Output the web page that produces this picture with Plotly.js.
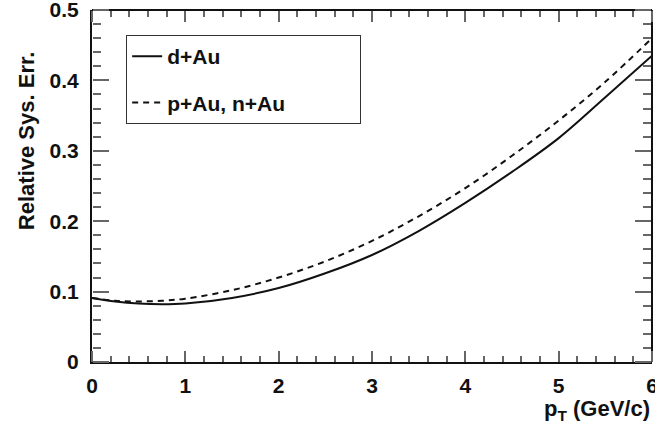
<!DOCTYPE html>
<html>
<head>
<meta charset="utf-8">
<script src="https://cdn.plot.ly/plotly-3.0.1.min.js"></script>
<style>
  body { margin: 0; background: #fff; }
  #plot { width: 655px; height: 432px; }
</style>
</head>
<body>
<div id="plot"></div>
<script>
// pT points (GeV/c)
var pt = [0, 0.25, 0.5, 0.75, 1, 1.5, 2, 2.5, 3, 3.5, 4, 4.5, 5, 5.5, 6];
// relative systematic error
var dAu = [0.091, 0.086, 0.083, 0.082, 0.083, 0.091, 0.105, 0.126, 0.152, 0.186, 0.226, 0.270, 0.318, 0.376, 0.435];
var pnAu = [0.091, 0.087, 0.086, 0.087, 0.090, 0.102, 0.120, 0.143, 0.172, 0.207, 0.247, 0.293, 0.343, 0.398, 0.460];
var names = ['d+Au', 'p+Au, n+Au'];
var xTicks = [0, 1, 2, 3, 4, 5, 6];
var xTickText = ['0', '1', '2', '3', '4', '5', '6'];
var yTicks = [0, 0.1, 0.2, 0.3, 0.4, 0.5];
var yTickText = ['0', '0.1', '0.2', '0.3', '0.4', '0.5'];

var FONT = 'Liberation Sans, Arial, sans-serif';
var PAD = '\u00a0'.repeat(12); // widens the legend box like the original

function bold(s) { return '<b>' + s + '</b>'; }

var traces = [
	{
		x: pt, y: dAu, name: names[0] + PAD, mode: 'lines', legendgroup: 'a',
		line: { color: '#111', width: 2, shape: 'spline' }
	},
	{
		x: pt, y: pnAu, name: names[1] + PAD, mode: 'lines', legendgroup: 'b',
		line: { color: '#111', width: 2, shape: 'spline', dash: '6px,5px' }
	},
	// empty traces so the tick-only frame axes get drawn
	{ x: [], y: [], xaxis: 'x2', yaxis: 'y2', showlegend: false, hoverinfo: 'skip' },
	{ x: [], y: [], xaxis: 'x3', yaxis: 'y3', showlegend: false, hoverinfo: 'skip' }
];

var tickFont = { family: FONT, size: 21, color: '#111' };

// frame axes: outside ticks on the far side point into the plot
function xFrame(side, pos, line) {
	return {
		range: [0, 6], overlaying: 'x', anchor: 'free', position: pos, side: side,
		showline: line, linecolor: '#111', linewidth: 2,
		ticks: 'outside', ticklen: 11, tickcolor: '#666', tickwidth: 2, dtick: 1,
		minor: { ticks: 'outside', ticklen: 6, dtick: 0.2 },
		showticklabels: false, showgrid: false, zeroline: false
	};
}
function yFrame(side, pos, line) {
	return {
		range: [0, 0.5], overlaying: 'y', anchor: 'free', position: pos, side: side,
		showline: line, linecolor: '#111', linewidth: 2,
		ticks: 'outside', ticklen: 16, tickcolor: '#666', tickwidth: 2, dtick: 0.1,
		minor: { ticks: 'outside', ticklen: 8, dtick: 0.02 },
		showticklabels: false, showgrid: false, zeroline: false
	};
}

var layout = {
	width: 655, height: 432,
	margin: { l: 92, r: 3, t: 10, b: 70 },
	showlegend: true,
	legend: {
		x: 0.061, y: 0.929, xanchor: 'left', yanchor: 'top',
		bordercolor: '#333', borderwidth: 1, bgcolor: '#fff',
		tracegroupgap: 16,
		font: { family: FONT, size: 21, weight: 'bold', color: '#111' }
	},
	xaxis: {
		range: [0, 6], tickmode: 'array', tickvals: xTicks, ticktext: xTickText.map(bold),
		showline: true, linecolor: '#111', linewidth: 2, ticks: '',
		showgrid: false, zeroline: false,
		tickfont: tickFont, ticklabelstandoff: 4, ticklabeloverflow: 'allow'
	},
	yaxis: {
		range: [0, 0.5], tickmode: 'array', tickvals: yTicks, ticktext: yTickText.map(bold),
		showline: true, linecolor: '#111', linewidth: 2, ticks: '',
		showgrid: false, zeroline: false,
		tickfont: tickFont, ticklabelstandoff: 7, ticklabeloverflow: 'allow'
	},
	xaxis2: xFrame('bottom', 1, true),
	yaxis2: yFrame('left', 1, true),
	xaxis3: xFrame('top', 0, false),
	yaxis3: yFrame('right', 0, false),
	annotations: [
		{
			text: 'Relative Sys. Err.', textangle: -90, showarrow: false,
			xref: 'paper', yref: 'paper', x: -0.118, y: 0.63,
			xanchor: 'center', yanchor: 'middle',
			font: { family: FONT, size: 22, weight: 'bold', color: '#111' }
		},
		{
			text: 'p<sub>T</sub> (GeV/c)', showarrow: false,
			xref: 'paper', yref: 'paper', x: 1, y: -0.09,
			xanchor: 'right', yanchor: 'top',
			font: { family: FONT, size: 22, weight: 'bold', color: '#111' }
		}
	]
};

Plotly.newPlot('plot', traces, layout, { displayModeBar: false });
</script>
</body>
</html>
